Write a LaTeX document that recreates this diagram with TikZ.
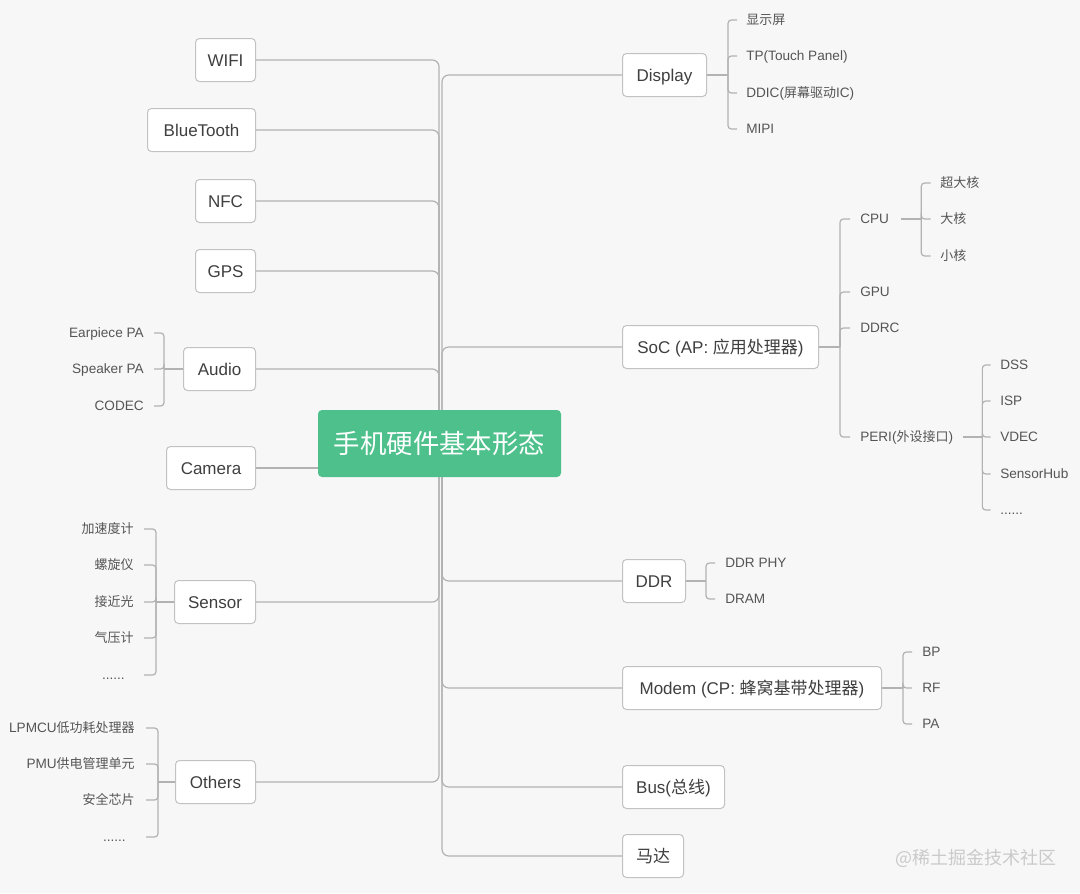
\documentclass[tikz,border=0pt]{standalone}
\usepackage{fontspec}
\setmainfont{Liberation Sans}
\newfontfamily\cjk{Noto Sans CJK SC}
\definecolor{bgc}{HTML}{F7F7F7}
\definecolor{boxline}{HTML}{C2C2C2}
\definecolor{linegray}{HTML}{B2B2B2}
\definecolor{boxtext}{HTML}{3F3F3F}
\definecolor{leaftext}{HTML}{555555}
\definecolor{rootgreen}{HTML}{4DC08B}
\definecolor{wm}{HTML}{CACACA}
\pgfdeclarelayer{bg}
\pgfsetlayers{bg,main}
\tikzset{
  box/.style={draw=boxline, fill=white, rounded corners=3pt, line width=0.75pt,
    minimum height=32.25pt, inner sep=0pt, font=\fontsize{12.75}{15}\selectfont,
    text=boxtext, text height=9.5pt, text depth=0pt},
  rootbox/.style={fill=rootgreen, rounded corners=3pt, inner sep=0pt,
    minimum width=182.25pt, minimum height=50.25pt,
    font=\cjk\fontsize{19.8}{22}\selectfont, text=white, text height=15pt, text depth=0pt},
  leaf/.style={inner sep=0pt, font=\fontsize{10.2}{12}\selectfont, text=leaftext,
    text height=7.4pt, text depth=0pt},
  cleaf/.style={leaf, font=\cjk\fontsize{9.75}{12}\selectfont},
  conn/.style={draw=linegray, line width=0.9pt, rounded corners=5pt},
  sconn/.style={draw=linegray, line width=0.9pt, rounded corners=2.5pt},
}
\begin{document}
\begin{tikzpicture}[x=0.75pt,y=-0.75pt]
\begin{pgfonlayer}{bg}
\fill[bgc] (0,0) rectangle (1080,893);
\end{pgfonlayer}
\useasboundingbox (0,0) rectangle (1080,893);

% root
\node[rootbox] (root) at (439.5,443.5) {手机硬件基本形态};
\coordinate (tl) at (439,443);
\coordinate (tr) at (442,443);

% left boxes
\node[box, minimum width=45pt, anchor=east] (wifi) at (256,60) {WIFI};
\node[box, minimum width=81pt, anchor=east] (bt) at (256,130) {BlueTooth};
\node[box, minimum width=45pt, anchor=east] (nfc) at (256,201) {NFC};
\node[box, minimum width=45pt, anchor=east] (gps) at (256,271) {GPS};
\node[box, minimum width=54pt, anchor=east] (audio) at (256,369) {Audio};
\node[box, minimum width=66.75pt, anchor=east] (cam) at (256,468) {Camera};
\node[box, minimum width=60.75pt, anchor=east] (sensor) at (256,602) {Sensor};
\node[box, minimum width=60pt, anchor=east] (others) at (256,782) {Others};

% right boxes
\node[box, minimum width=63pt, anchor=west] (disp) at (622,75) {Display};
\node[box, minimum width=147pt, anchor=west] (soc) at (622,347) {SoC (AP: {\cjk 应用处理器})};
\node[box, minimum width=47.25pt, anchor=west] (ddr) at (622,581) {DDR};
\node[box, minimum width=194.25pt, anchor=west] (modem) at (622,688) {Modem (CP: {\cjk 蜂窝基带处理器})};
\node[box, minimum width=76.5pt, anchor=west] (bus) at (622,787) {Bus({\cjk 总线})};
\node[box, minimum width=45.75pt, anchor=west] (mada) at (622,856) {\cjk 马达};

% Display leaves
\node[cleaf, anchor=west] (d1) at (746,20) {显示屏};
\node[leaf, anchor=west] (d2) at (746,56) {TP(Touch Panel)};
\node[leaf, anchor=west] (d3) at (746,93) {DDIC({\cjk\fontsize{9.75}{12}\selectfont 屏幕驱动}IC)};
\node[leaf, anchor=west] (d4) at (746,129) {MIPI};

% SoC leaves
\node[leaf, anchor=west] (cpu) at (860,219) {CPU};
\node[leaf, anchor=west] (gpu) at (860,292) {GPU};
\node[leaf, anchor=west] (ddrc) at (860,328) {DDRC};
\node[leaf, anchor=west] (peri) at (860,437) {PERI({\cjk\fontsize{9.75}{12}\selectfont 外设接口})};

\node[cleaf, anchor=west] (c1) at (940,183) {超大核};
\node[cleaf, anchor=west] (c2) at (940,219) {大核};
\node[cleaf, anchor=west] (c3) at (940,256) {小核};

\node[leaf, anchor=west] (p1) at (1000,365) {DSS};
\node[leaf, anchor=west] (p2) at (1000,401) {ISP};
\node[leaf, anchor=west] (p3) at (1000,437) {VDEC};
\node[leaf, anchor=west] (p4) at (1000,474) {SensorHub};
\node[leaf, anchor=west] (p5) at (1000,510) {......};

% DDR leaves
\node[leaf, anchor=west] (r1) at (725,563) {DDR PHY};
\node[leaf, anchor=west] (r2) at (725,599) {DRAM};

% Modem leaves
\node[leaf, anchor=west] (m1) at (922,652) {BP};
\node[leaf, anchor=west] (m2) at (922,688) {RF};
\node[leaf, anchor=west] (m3) at (922,724) {PA};

% Audio leaves
\node[leaf, anchor=east] (a1) at (144,333) {Earpiece PA};
\node[leaf, anchor=east] (a2) at (144,369) {Speaker PA};
\node[leaf, anchor=east] (a3) at (144,406) {CODEC};

% Sensor leaves
\node[cleaf, anchor=east] (s1) at (134,529) {加速度计};
\node[cleaf, anchor=east] (s2) at (134,565) {螺旋仪};
\node[cleaf, anchor=east] (s3) at (134,602) {接近光};
\node[cleaf, anchor=east] (s4) at (134,638) {气压计};
\node[leaf, anchor=east] (s5) at (125,675) {......};

% Others leaves
\node[leaf, anchor=east] (o1) at (135,728) {LPMCU{\cjk\fontsize{9.75}{12}\selectfont 低功耗处理器}};
\node[leaf, anchor=east] (o2) at (135,764) {PMU{\cjk\fontsize{9.75}{12}\selectfont 供电管理单元}};
\node[cleaf, anchor=east] (o3) at (135,800) {安全芯片};
\node[leaf, anchor=east] (o4) at (126,837) {......};

% watermark
\node[inner sep=0pt, anchor=east, text=wm, font=\cjk\fontsize{13.5}{16}\selectfont] (wmark) at (1057,858) {@稀土掘金技术社区};

\begin{pgfonlayer}{bg}
% trunk connectors
\foreach \n in {wifi,bt,nfc,gps,audio,sensor,others}
  \draw[conn] (\n.east) -| (tl);
\draw[conn] (cam.east) -- (cam.east -| root.west);
\foreach \n in {disp,soc,ddr,modem,bus,mada}
  \draw[conn] (tr) |- (\n.west);

% Display bracket
\draw[sconn] (disp.east) -- ++(21,0) coordinate (db);
\foreach \n in {d1,d2,d3,d4} \draw[sconn] (db) |- ([xshift=-6.75pt]\n.west);
% SoC bracket
\draw[sconn] (soc.east) -- ++(21,0) coordinate (sb);
\foreach \n in {cpu,gpu,ddrc,peri} \draw[sconn] (sb) |- ([xshift=-7.5pt]\n.west);
% CPU bracket
\draw[sconn] ([xshift=9pt]cpu.east) -- ++(20,0) coordinate (cb);
\foreach \n in {c1,c2,c3} \draw[sconn] (cb) |- ([xshift=-7pt]\n.west);
% PERI bracket
\draw[sconn] ([xshift=7.5pt]peri.east) -- ++(19,0) coordinate (pb);
\foreach \n in {p1,p2,p3,p4,p5} \draw[sconn] (pb) |- ([xshift=-7pt]\n.west);
% DDR bracket
\draw[sconn] (ddr.east) -- ++(20,0) coordinate (rb);
\foreach \n in {r1,r2} \draw[sconn] (rb) |- ([xshift=-7.5pt]\n.west);
% Modem bracket
\draw[sconn] (modem.east) -- ++(21,0) coordinate (mb);
\foreach \n in {m1,m2,m3} \draw[sconn] (mb) |- ([xshift=-7.5pt]\n.west);
% Audio bracket
\draw[sconn] (audio.west) -- ++(-19,0) coordinate (ab);
\foreach \n in {a1,a2,a3} \draw[sconn] (ab) |- ([xshift=7.5pt]\n.east);
% Sensor bracket
\draw[sconn] (sensor.west) -- ++(-18,0) coordinate (snb);
\foreach \n in {s1,s2,s3,s4} \draw[sconn] (snb) |- ([xshift=7.5pt]\n.east);
\draw[sconn] (snb) |- ([xshift=14.25pt]s5.east);
% Others bracket
\draw[sconn] (others.west) -- ++(-17,0) coordinate (ob);
\foreach \n in {o1,o2,o3} \draw[sconn] (ob) |- ([xshift=8.25pt]\n.east);
\draw[sconn] (ob) |- ([xshift=15pt]o4.east);
\end{pgfonlayer}
\end{tikzpicture}
\end{document}
